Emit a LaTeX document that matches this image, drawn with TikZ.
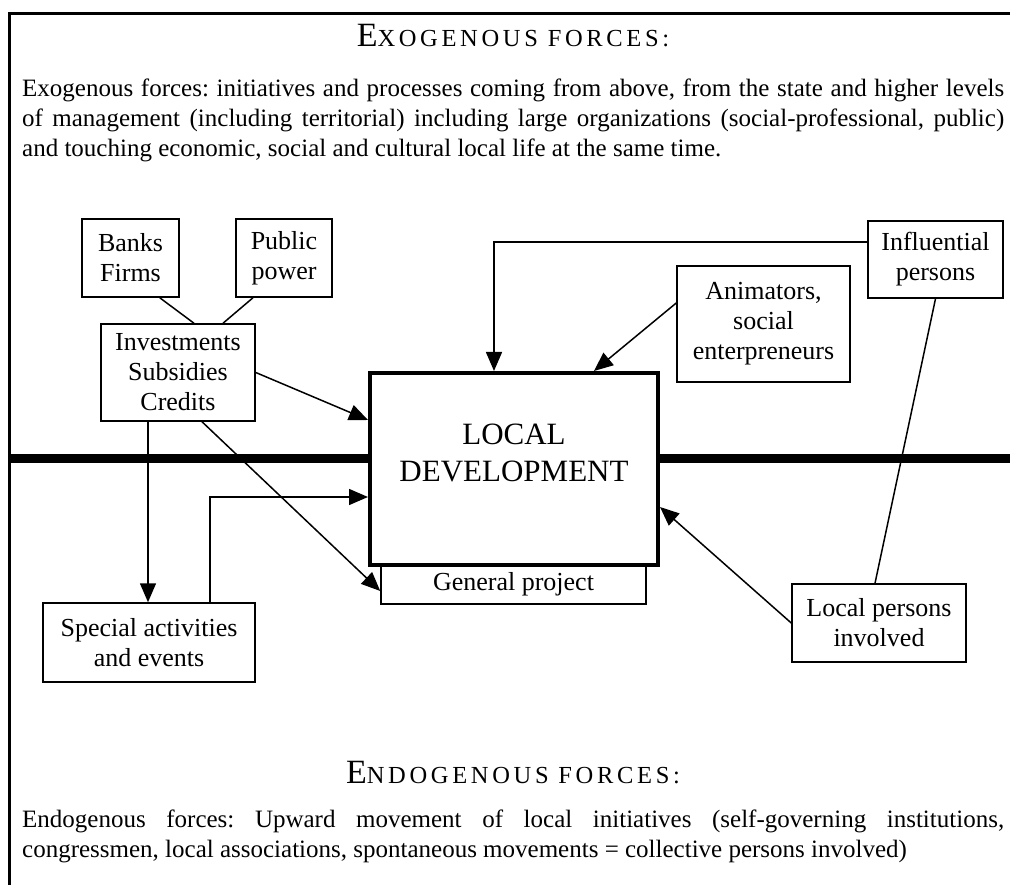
\documentclass[tikz,border=0pt]{standalone}
\usepackage{fontspec}
\setmainfont{Liberation Serif}
\newfontfamily\titlefont[LetterSpace=15]{Liberation Serif}
\usetikzlibrary{arrows.meta}
\frenchspacing
\begin{document}
\begin{tikzpicture}[x=1pt,y=-1pt,
  box/.style={draw, line width=1.5pt, fill=white, inner sep=0pt, align=center,
    font=\fontsize{26}{30}\selectfont},
  conn/.style={line width=1.5pt},
  arr/.style={line width=1.5pt, -{Triangle[length=19pt,width=16pt]}},
  bodytext/.style={anchor=base west, inner sep=0pt, text width=982pt, align=justify,
    font=\fontsize{25}{30}\selectfont},
  titletext/.style={anchor=base, inner sep=0pt, font=\titlefont},
]
\useasboundingbox (0,0) rectangle (1010,885);

% frame
\coordinate (fTL) at (9,13.5);
\coordinate (fTR) at (1010,13.5);
\coordinate (fBL) at (9,885);
\draw[line width=3pt] (fTR) -- (fTL) -- (fBL);

% titles and texts
\node[titletext] (exotitle) at (513,47)
  {{\fontsize{34}{36}\selectfont E}{\fontsize{24.5}{28}\selectfont XOGENOUS FORCES:}};
\node[bodytext] (exotext) at (22,97) {\frenchspacing\hyphenpenalty=10000 Exogenous forces: initiatives and processes coming from above, from the state and higher levels\linebreak of management (including territorial) including large organizations (social-professional, public)\linebreak and touching economic, social and cultural local life at the same time.};

\node[titletext] (endotitle) at (513,783)
  {{\fontsize{34}{36}\selectfont E}{\fontsize{24.5}{28}\selectfont NDOGENOUS FORCES:}};
\node[bodytext] (endotext) at (22,827) {\frenchspacing\hyphenpenalty=10000 Endogenous forces: Upward movement of local initiatives (self-governing institutions,\linebreak congressmen, local associations, spontaneous movements = collective persons involved)};

% boxes
\node[box, minimum width=97pt, minimum height=78pt] (banks) at (130.5,258) {Banks\\Firms};
\node[box, minimum width=96pt, minimum height=78pt] (public) at (284,258) {Public\\power};
\node[box, minimum width=154pt, minimum height=97pt] (invest) at (178,372.5) {Investments\\Subsidies\\Credits};
\node[box, minimum width=212pt, minimum height=79pt] (special) at (149,642.5) {Special activities\\and events};
\node[box, minimum width=173pt, minimum height=116pt] (anim) at (763.5,324) {Animators,\\social\\enterpreneurs};
\node[box, minimum width=135pt, minimum height=77pt] (infl) at (935.5,259.5) {Influential\\persons};
\node[box, minimum width=174pt, minimum height=78pt] (localp) at (879,623) {Local persons\\involved};
\node[box, minimum width=265pt, minimum height=39pt] (gp) at (513.5,584.5) {General project};

% thick separator line
\coordinate (hl) at (9,458);
\coordinate (hr) at (1010,458);
\node[draw, line width=4pt, fill=white, inner sep=0pt, minimum width=288pt, minimum height=192pt] (ld) at (514,469) {};
\draw[line width=9pt] (hl) -- (hl -| ld.west);
\draw[line width=9pt] (hr) -- (hr -| ld.east);
\node[font=\fontsize{31}{37}\selectfont, align=center, inner sep=0pt] (ldtext) at (514,453) {LOCAL\\DEVELOPMENT};

% connectors
\draw[conn] ([xshift=-20pt]banks.south east) -- ([xshift=16pt]invest.north);
\draw[conn] ([xshift=-31pt]public.south) -- ([xshift=45pt]invest.north);
\draw[arr] (invest.east) -- ([yshift=49pt]ld.west);
\draw[arr] ([xshift=-30pt]invest.south) -- ([xshift=-30pt]invest.south |- special.north);
\draw[arr] ([xshift=24pt]invest.south) -- ([yshift=-6.5pt]gp.west);
\draw[arr] ([xshift=61pt]special.north) |- ([yshift=-28pt]ld.west);
\draw[arr] ([yshift=17.5pt]infl.west) -| ([xshift=-20pt]ld.north);
\draw[arr] ([yshift=21pt]anim.west) -- ([xshift=80pt]ld.north);
\draw[conn] (infl.south) -- ([xshift=-4pt]localp.north);
\draw[arr] (localp.west) -- ([yshift=-38pt]ld.east);
\end{tikzpicture}
\end{document}
